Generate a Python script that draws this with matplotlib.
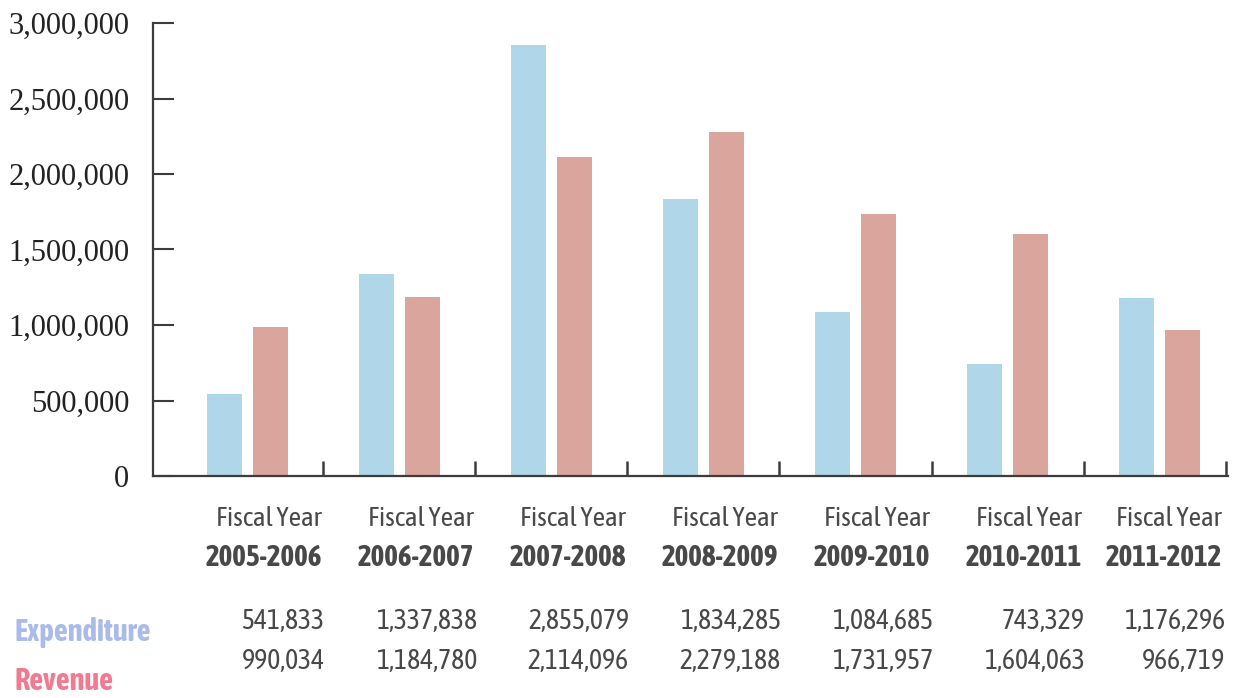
import matplotlib
matplotlib.use("Agg")
import matplotlib.pyplot as plt
import matplotlib.transforms as mtransforms
import numpy as np

years = ["2005-2006", "2006-2007", "2007-2008", "2008-2009",
         "2009-2010", "2010-2011", "2011-2012"]
expenditure = [541833, 1337838, 2855079, 1834285, 1084685, 743329, 1176296]
revenue = [990034, 1184780, 2114096, 2279188, 1731957, 1604063, 966719]
yticks = [0, 500000, 1000000, 1500000, 2000000, 2500000, 3000000]

blue = "#afd6e9"
red = "#d9a59d"
axis_col = "#3c3c3c"
text_col = "#484848"
cond = ["Asap Condensed", "DejaVu Sans"]

fig = plt.figure(figsize=(12.35, 6.98), dpi=100)
W, H = 1235, 698
ax = fig.add_axes([153 / W, 1 - 476 / H, 1075 / W, 453 / H])

x = np.arange(len(years))
ax.bar(x - 0.15, expenditure, width=0.23, color=blue)
ax.bar(x + 0.15, revenue, width=0.23, color=red)

ax.set_xlim(-0.62, 6.45)
ax.set_ylim(0, 3000000)

for s in ["top", "right"]:
    ax.spines[s].set_visible(False)
for s in ["left", "bottom"]:
    ax.spines[s].set_color(axis_col)
    ax.spines[s].set_linewidth(1.6)

ax.set_yticks(yticks)
ax.set_yticklabels(["{:,}".format(v) for v in yticks],
                   fontfamily="Liberation Serif", fontsize=22, color="#222222")
ax.tick_params(axis="y", direction="in", length=15, width=1.5,
               color=axis_col, pad=17)
ax.set_xticks(list(x[:-1] + 0.5) + [6.44])
ax.set_xticklabels([])
ax.tick_params(axis="x", direction="in", length=11, width=1.8, color=axis_col)

# category labels and data table under the axis
tr = mtransforms.blended_transform_factory(ax.transData, fig.transFigure)
for i, yr in enumerate(years):
    xr = min(i + 0.49, 6.41)
    ax.text(xr, 1 - 519 / H, "Fiscal Year", transform=tr, ha="right",
            va="center", family=cond, fontsize=19.5, color=text_col)
    ax.text(xr, 1 - 557 / H, yr, transform=tr, ha="right", va="center",
            family=cond, fontweight="bold", fontsize=21, color=text_col)
    ax.text(xr + 0.02, 1 - 621 / H, "{:,}".format(expenditure[i]),
            transform=tr, ha="right", va="center", family=cond,
            fontsize=20, color=text_col)
    ax.text(xr + 0.02, 1 - 662 / H, "{:,}".format(revenue[i]),
            transform=tr, ha="right", va="center", family=cond,
            fontsize=20, color=text_col)

fig.text(15 / W, 1 - 632 / H, "Expenditure", ha="left", va="center",
         family=cond, fontweight="bold", fontsize=22, color="#aabbe9")
fig.text(15 / W, 1 - 682 / H, "Revenue", ha="left", va="center",
         family=cond, fontweight="bold", fontsize=22, color="#f27a90")

fig.savefig("out.png", dpi=100)
